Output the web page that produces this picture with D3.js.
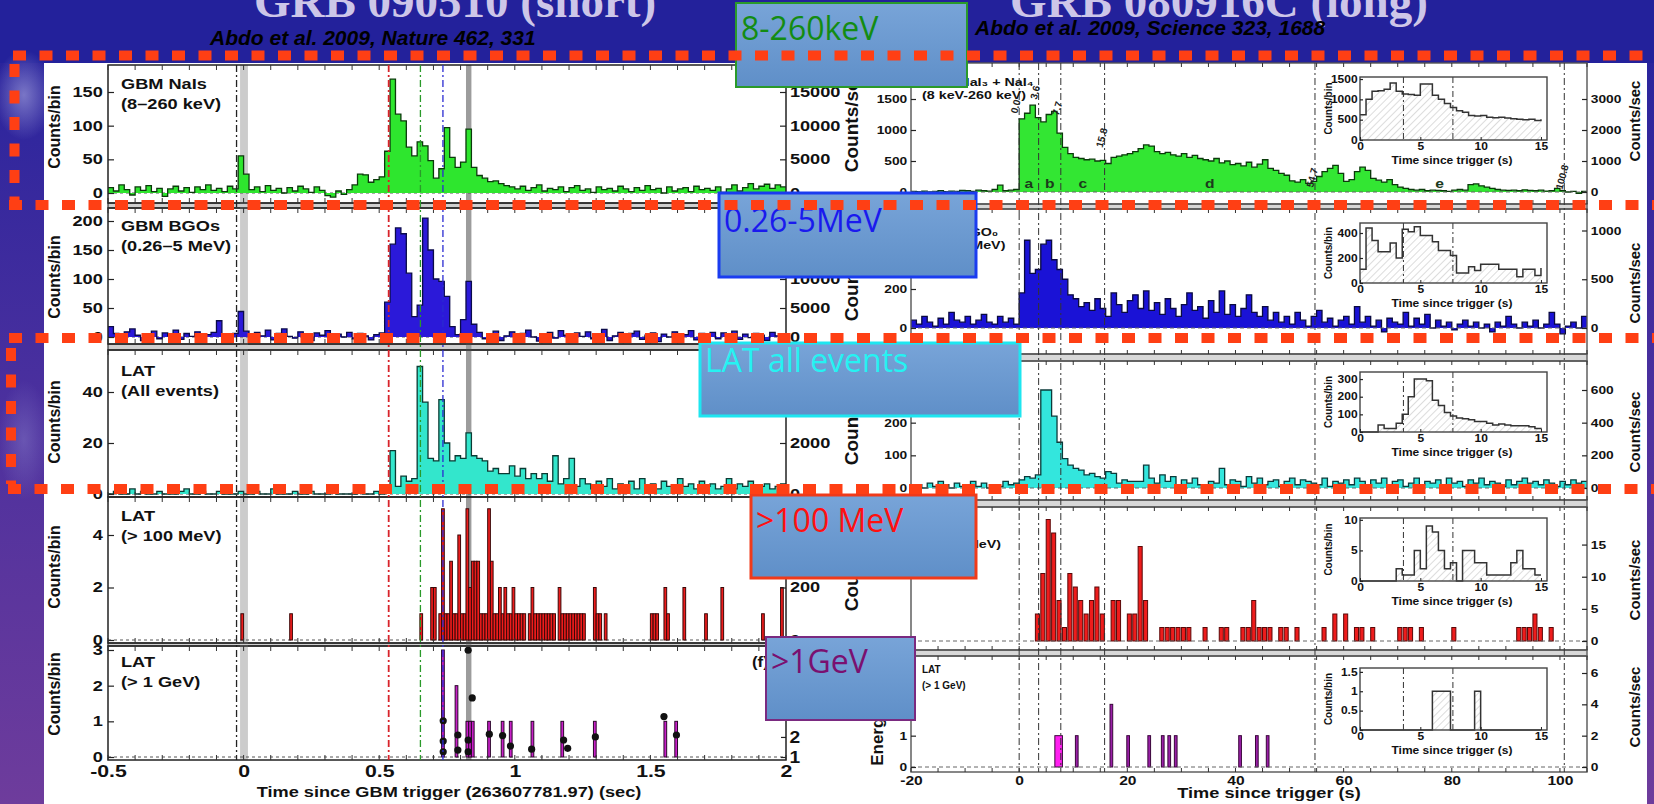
<!DOCTYPE html>
<meta charset="utf-8">
<style>
body { margin: 0; background: #23209a; overflow: hidden; }
</style>
<body>
<script src="https://d3js.org/d3.v7.min.js"></script>
<script>

// ---------- GRB 090510 (short) : counts per 0.02 s bin, from -0.5 s ----------
var naiShort = [8,3,12,5,-3,9,4,11,2,7,-5,6,10,3,8,1,9,5,12,4,7,2,10,6,
  55,28,
  5,9,2,11,4,7,0,8,3,10,6,1,9,4,-4,-6,3,-2,5,
  12,28,27,16,20,24,
  62,169,117,107,68,55,76,70,48,22,36,97,53,38,46,95,38,26,22,17,18,14,11,
  9,6,10,4,8,12,3,7,5,9,2,8,11,4,6,1,9,5,7,3,10,6,2,8,4,11,5,7,0,9,3,6,8,2,10,5,7,4,9,1,6,12,3,8,14,6,10,13,7,12,9];
var bgoShort = [18,6,-2,9,14,3,-6,5,10,-3,7,2,12,-4,6,1,9,-5,4,8,28,3,-2,6,
  44,10,
  -3,8,2,12,-5,6,14,1,-2,9,4,-6,7,3,11,-4,5,0,8,-3,6,2,-5,4,7,
  60,160,188,178,110,35,55,205,150,100,96,70,18,4,30,96,22,
  8,-3,5,10,-6,2,9,-4,6,12,0,-7,5,8,-2,11,3,-5,7,1,9,-3,4,13,-6,2,8,-1,6,10,
  -4,3,7,-8,5,0,9,-2,4,11,-5,6,1,8,-3,7,2,10,-4,5,-1,6,3,-6,8,2,5];
var latShort = [0,1,0,0,2,0,1,0,0,1,0,0,0,1,2,0,0,1,0,0,1,0,0,0,1,
  0,0,1,0,0,2,0,0,0,1,0,0,1,0,0,0,1,0,0,0,0,1,0,0,1,0,
  1,17,3,7,5,6,50,36,14,13,37,20,13,15,14,24,15,14,13,9,10,8,8,11,7,10,6,8,6,8,5,15,4,6,14,3,
  6,4,2,5,3,6,2,4,3,5,2,6,3,4,2,5,3,2,6,3,4,2,5,3,4,2,3,6,2,4,3,5,2,3,4,2,3,4];
// LAT > 100 MeV and > 1 GeV : 0.01 s bins (bin start, counts)
var lat100T = [-0.01,0.17,0.65,0.69,0.70,0.72,0.73,0.74,0.75,0.76,0.77,0.78,0.79,0.80,0.81,0.82,0.83,0.84,0.85,0.86,
  0.87,0.88,0.89,0.90,0.91,0.92,0.93,0.94,0.95,0.96,0.97,0.98,0.99,1.00,1.01,1.02,1.03,1.05,1.06,1.07,
  1.08,1.09,1.10,1.11,1.12,1.13,1.14,1.16,1.17,1.18,1.19,1.20,1.21,1.22,1.23,1.24,1.25,1.29,1.30,1.31,
  1.33,1.50,1.51,1.52,1.55,1.56,1.62,1.70,1.76,1.91,1.98];
var lat100C = [1,1,1,2,2,1,5,1,1,3,1,1,4,1,1,5,2,3,3,3,
  1,1,1,5,3,1,1,2,1,2,1,1,2,1,1,1,1,1,2,1,
  1,1,1,1,1,1,1,2,1,1,1,1,1,1,1,1,1,2,1,1,
  1,1,1,1,2,1,2,1,2,1,2];
var gev1T = [0.73,0.78,0.82,0.83,0.84,0.90,0.95,0.98,1.06,1.17,1.29,1.55,1.59];
var gev1C = [3,2,1,1,1,1,1,1,1,1,1,1,1];
// photon energies (GeV) above 1 GeV
var photonT = [0.736,0.736,0.736,0.79,0.79,0.828,0.843,0.828,0.828,0.906,0.955,0.984,1.062,1.18,1.195,1.297,1.55,1.596];
var photonE = [3.5,1.74,1.2,2.14,1.27,40,7.7,1.8,1.2,2.2,2.1,1.46,1.31,1.8,1.35,2.0,4.05,2.14];
var shortLinesT = [-0.026, 0.535, 0.652, 0.735];
var shortBands = [[-0.013, 0.016], [0.82, 0.84]];
var shortXTicks = [-0.5, 0, 0.5, 1, 1.5, 2];
var shortYTicks = [[0,50,100,150],[0,50,100,150,200],[0,20,40],[0,2,4],[0,1,2,3]];
var shortRTicks = [[0,5000,10000,15000],[0,5000,10000],[0,2000,4000],[0,200,400],[1,2,5,10,20]];
var shortLabels = [["GBM NaIs","(8–260 keV)"],["GBM BGOs","(0.26–5 MeV)"],["LAT","(All events)"],["LAT","(> 100 MeV)"],["LAT","(> 1 GeV)"]];

// ---------- GRB 080916C (long) : counts per 1 s bin, from -20 s ----------
var naiLong = [10,5,15,0,10,20,5,15,10,25,20,10,30,20,15,40,110,20,30,40,
  1180,1270,1400,1200,1130,1250,1300,950,720,620,560,540,520,530,500,510,460,560,580,600,
  620,650,700,760,740,650,620,640,600,580,620,560,590,540,520,500,540,470,500,440,
  460,420,480,400,450,520,380,350,300,270,180,160,200,140,170,250,330,380,430,300,
  170,200,330,400,350,220,190,160,200,120,80,60,40,30,40,20,30,25,20,10,
  30,40,30,120,130,100,80,60,40,30,25,30,20,35,25,20,30,15,20,60,20,0,10,-20,10];
var bgoLong = [40,20,60,30,10,50,20,80,40,30,60,20,40,70,30,20,60,30,50,20,
  180,450,280,300,430,450,350,300,250,170,150,110,130,90,150,100,60,180,120,80,
  140,170,100,190,90,130,70,150,100,60,120,180,90,110,50,140,80,190,70,120,
  60,100,170,80,60,110,40,80,30,60,20,80,40,10,60,90,30,50,10,40,
  60,20,110,30,60,10,40,-20,50,30,20,80,10,50,20,70,0,40,10,30,
  -10,20,40,10,30,0,20,-20,30,10,60,20,0,30,10,40,0,20,80,20,-30,10,30,0,60];
var latLong = [5,10,0,15,5,20,10,0,15,5,10,20,5,15,0,10,5,20,10,15,
  25,35,30,40,300,300,220,140,90,70,60,55,40,45,35,30,50,45,15,25,
  20,20,20,70,30,15,40,20,35,10,25,15,30,10,10,20,15,60,10,25,
  20,5,35,15,30,10,20,25,5,20,30,10,25,20,15,10,30,5,20,15,
  25,10,30,20,5,25,15,30,10,20,25,5,15,30,10,20,15,25,10,30,
  15,20,5,25,15,30,10,20,15,5,25,10,20,30,15,20,10,25,15,5,20,10,25,15,20];
var r100T = [3,4,5,6,7,8,9,10,11,12,13,14,15,17,18,20,21,22,23,26,27,28,29,30,31,34,37,38,41,42,
  43,44,45,46,48,49,51,56,58,60,62,63,65,70,71,72,74,80,92,93,94,95,96,98];
var r100C = [2,5,9,8,3,1,5,4,3,2,3,4,2,3,3,2,2,7,3,1,1,1,1,1,1,1,1,1,1,1,
  3,1,1,1,1,1,1,1,2,2,1,1,1,1,1,1,1,1,1,1,1,2,1,1];
var r1gT0 = [6.6,10.4,16.8,19.9,23.8,26.3,27.5,28.7,40.6,43.7,45.7];
var r1gT1 = [8.0,10.9,17.3,20.4,24.3,26.8,28.0,29.2,41.1,44.2,46.2];
var r1gC = [1,1,2,1,1,1,1,1,1,1,1];
var longLinesT = [0, 3.6, 7.7, 15.8, 54.7, 100.8];
var longLineLabels = ["0.0","3.6","7.7","15.8","54.7","100.8"];
var intervalNames = ["a","b","c","d","e"];
var longXTicks = [-20,0,20,40,60,80,100];
var longYTicks = [[0,500,1000,1500],[0,200,400],[0,100,200,300],[],[0,1,2,3]];
var longRTicks = [[0,1000,2000,3000],[0,500,1000],[0,200,400,600],[0,5,10,15],[0,2,4,6]];
var longRFactor = [2, 2, 2, 2.1, 2];
var longLabels = [["GBM NaI₃ + NaI₄","(8 keV-260 keV)"],["GBM BGO₀","(0.26-5 MeV)"],["LAT","(All events)"],["LAT","(> 100 MeV)"],["LAT","(> 1 GeV)"]];
// insets : first 15.5 s in 0.5 s bins
var insetNai = [620,1000,1200,1210,1250,1400,1200,1130,1120,1100,1380,1380,1100,1000,900,800,720,680,600,590,600,560,550,560,540,520,510,500,510,480,510];
var insetBgo = [110,440,340,250,250,320,200,430,410,450,380,380,330,260,260,220,80,80,130,100,150,150,150,110,110,110,50,110,110,60,120];
var insetLat = [0,0,0,40,20,20,50,100,200,300,300,290,180,150,110,90,80,75,70,60,60,50,40,45,40,35,35,35,30,20,15];
var inset100 = [0,0,0,0,0,0,2,1,1,5,2,9,8,5,2,3,0,5,5,3,3,1,1,1,1,3,5,2,2,1,1];
var inset1g = [0,0,0,0,0,0,0,0,0,0,0,0,1,1,1,0,0,0,0,1,0,0,0,0,0,0,0,0,0,0,0];
var insetMax = [1550, 480, 340, 10.3, 1.6];
var insetYTicks = [[0,500,1000,1500],[0,200,400],[0,100,200,300],[0,5,10],[0,0.5,1,1.5]];
var insetXTicks = [0,5,10,15];

var boxNames = ["8-260keV","0.26-5MeV","LAT all events",">100 MeV",">1GeV"];

var W = 1654, H = 804;
var svg = d3.select("body").append("svg").attr("width", W).attr("height", H)
  .attr("font-family", '"Liberation Sans", Arial, sans-serif');
var defs = svg.append("defs");

var bg = defs.append("linearGradient").attr("id", "bg").attr("x1", 0).attr("y1", 0).attr("x2", 0).attr("y2", 1);
[[0,"#22209b"],[0.1,"#2c259d"],[0.5,"#4b309e"],[1,"#6e3c9c"]].forEach(function(s){ bg.append("stop").attr("offset", s[0]).attr("stop-color", s[1]); });
var glow = defs.append("radialGradient").attr("id", "glow");
[[0,"#9a98d8",0.7],[1,"#9a98d8",0]].forEach(function(s){ glow.append("stop").attr("offset", s[0]).attr("stop-color", s[1]).attr("stop-opacity", s[2]); });
var bx = defs.append("linearGradient").attr("id", "boxg").attr("x1", 0).attr("y1", 0).attr("x2", 0).attr("y2", 1);
[[0,"#78a4d8"],[1,"#5f8fc8"]].forEach(function(s){ bx.append("stop").attr("offset", s[0]).attr("stop-color", s[1]); });
var hatch = defs.append("pattern").attr("id", "hatch").attr("patternUnits", "userSpaceOnUse")
  .attr("width", 5).attr("height", 5).attr("patternTransform", "rotate(45)");
hatch.append("line").attr("x1", 0).attr("y1", 0).attr("x2", 0).attr("y2", 5).attr("stroke", "#c4c4c4").attr("stroke-width", 1.2);

svg.append("rect").attr("width", W).attr("height", H).attr("fill", "url(#bg)");
svg.append("rect").attr("width", W).attr("height", 63).attr("fill", "#23219b");
svg.append("ellipse").attr("cx", 24).attr("cy", 95).attr("rx", 30).attr("ry", 45).attr("fill", "url(#glow)");
svg.append("ellipse").attr("cx", 24).attr("cy", 440).attr("rx", 26).attr("ry", 60).attr("fill", "url(#glow)").attr("opacity", 0.5);
svg.append("rect").attr("x", 44).attr("y", 63).attr("width", 1603).attr("height", H - 63).attr("fill", "#fff");

// titles
svg.append("text").attr("x", 455).attr("y", 17).attr("text-anchor", "middle")
  .attr("font-family", '"Liberation Serif", serif').attr("font-weight", "bold").attr("font-size", 47)
  .attr("fill", "#cdc6e8").text("GRB 090510 (short)");
svg.append("text").attr("x", 1219).attr("y", 17).attr("text-anchor", "middle")
  .attr("font-family", '"Liberation Serif", serif').attr("font-weight", "bold").attr("font-size", 47)
  .attr("fill", "#cdc6e8").text("GRB 080916C (long)");
svg.append("text").attr("x", 210).attr("y", 45).attr("font-size", 21).attr("font-weight", "bold")
  .attr("font-style", "italic").attr("fill", "#000").text("Abdo et al. 2009, Nature 462, 331");
svg.append("text").attr("x", 975).attr("y", 35).attr("font-size", 21).attr("font-weight", "bold")
  .attr("font-style", "italic").attr("fill", "#000").text("Abdo et al. 2009, Science 323, 1688");

function txt(g, x, y, s, o) {
  o = o || {};
  var tr = "translate(" + x + "," + y + ")";
  if (o.rot) tr += " rotate(" + o.rot + ")";
  if (o.sx && o.sx !== 1) tr += " scale(" + o.sx + ",1)";
  return g.append("text").attr("transform", tr)
    .attr("font-size", o.size || 14).attr("font-weight", "bold")
    .attr("text-anchor", o.anchor || "start")
    .attr("fill", o.fill || "#111").text(s);
}

function yAxis(g, right, x, scale, ticks, o) {
  var ax = (right ? d3.axisRight(scale) : d3.axisLeft(scale))
    .tickValues(ticks).tickSize(-o.tick).tickPadding(o.pad)
    .tickFormat(function(d){ return String(d); });
  var a = g.append("g").attr("transform", "translate(" + x + ",0)").call(ax)
    .attr("font-family", null).attr("font-size", null);
  a.select(".domain").remove();
  a.selectAll("line").attr("stroke", "#222").attr("stroke-width", 1.2);
  a.selectAll("text").attr("font-size", o.size).attr("font-weight", "bold").attr("fill", "#111")
    .attr("transform", "scale(" + o.sx + ",1)");
  return a;
}

function xMarks(g, x, y, vals, len) {
  g.append("g").selectAll("line").data(vals).join("line")
    .attr("x1", function(d){ return x(d); }).attr("x2", function(d){ return x(d); })
    .attr("y1", y).attr("y2", y + len).attr("stroke", "#333").attr("stroke-width", 1);
}

function stepHist(g, x, y, t0, dt, vals, fill, stroke) {
  var pts = vals.map(function(v, i){ return [t0 + i * dt, v]; });
  pts.push([t0 + vals.length * dt, vals[vals.length - 1]]);
  var area = d3.area().x(function(d){ return x(d[0]); }).y0(y(0)).y1(function(d){ return y(d[1]); }).curve(d3.curveStepAfter);
  var line = d3.line().x(function(d){ return x(d[0]); }).y(function(d){ return y(d[1]); }).curve(d3.curveStepAfter);
  g.append("path").attr("d", area(pts)).attr("fill", fill);
  g.append("path").attr("d", line(pts)).attr("fill", "none").attr("stroke", stroke).attr("stroke-width", 1.3);
}

function bars(g, x, y, t0s, t1s, cs, fill, stroke) {
  g.append("g").selectAll("rect").data(cs).join("rect")
    .attr("x", function(c, i){ return x(t0s[i]); })
    .attr("width", function(c, i){ return x(t1s[i]) - x(t0s[i]); })
    .attr("y", function(c){ return y(c); })
    .attr("height", function(c){ return y(0) - y(c); })
    .attr("fill", typeof fill === "function" ? function(c, i){ return fill(i); } : fill)
    .attr("stroke", stroke).attr("stroke-width", 1);
}

// ================= left figure =================
var gS = svg.append("g");
var xS = d3.scaleLinear().domain([-0.5, 2]).range([108, 786]);
var sP = [
  {top: 65,  bot: 203, y0: 193, y1: 92,  ly: 89,  ty: 127, rty: 121},
  {top: 208, bot: 344, y0: 337, y1: 221, ly: 231, ty: 277, rty: 270},
  {top: 350, bot: 497, y0: 494, y1: 392, ly: 376, ty: 422, rty: 414},
  {top: 497, bot: 643, y0: 640, y1: 535, ly: 521, ty: 567, rty: 560},
  {top: 646, bot: 760, y0: 757, y1: 650, ly: 667, ty: 694}
];
var sColors = [["#2ee62e","#0b3a0b"],["#2b19d9","#0b0b4a"],["#33e6cc","#0b3a33"],["#ee1c1c","#3a0808"],["#c81fc8","#2a062a"]];
var minorS = d3.range(-5, 21).map(function(i){ return i / 10; });

// gaps between panels
[[203,208],[344,350],[643,646]].forEach(function(r){
  gS.append("rect").attr("x", xS.range()[0]).attr("y", r[0]).attr("width", xS.range()[1] - xS.range()[0])
    .attr("height", r[1] - r[0]).attr("fill", "#cfcfcf").attr("stroke", "#333").attr("stroke-width", 1.2);
});
// gray bands
shortBands.forEach(function(b, i){
  gS.append("rect").attr("x", xS(b[0])).attr("width", xS(b[1]) - xS(b[0])).attr("y", 65).attr("height", 695)
    .attr("fill", i === 0 ? "#cccccc" : "#9c9c9c");
});

sP.forEach(function(p, k){
  var y = d3.scaleLinear().domain([0, shortYTicks[k][shortYTicks[k].length - 1]]).range([p.y0, p.y1]);
  defs.append("clipPath").attr("id", "cs" + k).append("rect")
    .attr("x", xS.range()[0]).attr("y", p.top).attr("width", xS.range()[1] - xS.range()[0]).attr("height", p.bot - p.top);
  var g = gS.append("g").attr("clip-path", "url(#cs" + k + ")");
  g.append("line").attr("x1", xS.range()[0]).attr("x2", xS.range()[1]).attr("y1", y(0)).attr("y2", y(0))
    .attr("stroke", "#555").attr("stroke-dasharray", "3 3");
  if (k === 0) stepHist(g, xS, y, -0.5, 0.02, naiShort, sColors[0][0], sColors[0][1]);
  if (k === 1) stepHist(g, xS, y, -0.5, 0.02, bgoShort, sColors[1][0], sColors[1][1]);
  if (k === 2) stepHist(g, xS, y, -0.5, 0.02, latShort, sColors[2][0], sColors[2][1]);
  if (k === 3) bars(g, xS, y, lat100T, lat100T.map(function(t){ return t + 0.01; }), lat100C, sColors[3][0], sColors[3][1]);
  if (k === 4) {
    bars(g, xS, y, gev1T, gev1T.map(function(t){ return t + 0.01; }), gev1C, sColors[4][0], sColors[4][1]);
    var yE = d3.scaleLog().domain([1, 48]).range([757, 645]);
    g.append("g").selectAll("circle").data(photonE).join("circle")
      .attr("cx", function(e, i){ return xS(photonT[i]); }).attr("cy", function(e){ return yE(e); })
      .attr("r", 3.6).attr("fill", "#111");
    yAxis(gS, true, xS.range()[1], yE, shortRTicks[4], {tick: 5, pad: 3, size: 16, sx: 1.2});
  } else {
    var yr = d3.scaleLinear().domain(y.domain().map(function(v){ return v * 100; })).range(y.range());
    yAxis(gS, true, xS.range()[1], yr, shortRTicks[k], {tick: 6, pad: 3, size: 14, sx: 1.3});
    txt(gS, 858, p.rty, "Counts/sec", {rot: -90, anchor: "middle", size: 19});
  }
  gS.append("rect").attr("x", xS.range()[0]).attr("y", p.top).attr("width", xS.range()[1] - xS.range()[0])
    .attr("height", p.bot - p.top).attr("fill", "none").attr("stroke", "#222").attr("stroke-width", 1.5);
  yAxis(gS, false, xS.range()[0], y, shortYTicks[k], {tick: 6, pad: 4, size: 14, sx: 1.3});
  xMarks(gS, xS, p.bot, minorS, -5);
  xMarks(gS, xS, p.top, minorS, 5);
  txt(gS, 121, p.ly, shortLabels[k][0], {size: 14, sx: 1.3});
  txt(gS, 121, p.ly + 20, shortLabels[k][1], {size: 14, sx: 1.3});
  txt(gS, 60, p.ty, "Counts/bin", {rot: -90, anchor: "middle", size: 16});
});
txt(gS, 883, 712, "Energy (GeV)", {rot: -90, anchor: "middle", size: 17});
txt(gS, 752, 667, "(f)", {size: 14, sx: 1.2});

// dash-dot lines
var sLineCols = ["#222", "#d8232a", "#2a9a2a", "#2a2ad0"];
shortLinesT.forEach(function(t, i){
  gS.append("line").attr("x1", xS(t)).attr("x2", xS(t)).attr("y1", 65).attr("y2", 760)
    .attr("stroke", sLineCols[i]).attr("stroke-width", i === 1 ? 1.8 : 1.3).attr("stroke-dasharray", "7 3 2 3");
});

var axS = gS.append("g").attr("transform", "translate(0,760)")
  .call(d3.axisBottom(xS).tickValues(shortXTicks).tickSize(0).tickPadding(5).tickFormat(function(d){ return String(d); }))
  .attr("font-family", null).attr("font-size", null);
axS.select(".domain").remove();
axS.selectAll("text").attr("font-size", 17).attr("font-weight", "bold").attr("fill", "#111").attr("transform", "scale(1.25,1)");
txt(gS, 449, 797, "Time since GBM trigger (263607781.97) (sec)", {anchor: "middle", size: 14, sx: 1.3});

// ================= right figure =================
var gL = svg.append("g");
var xL = d3.scaleLinear().domain([-20, 105]).range([911, 1587]);
var lP = [
  {top: 63,  bot: 204, y0: 192, y1: 99},
  {top: 209, bot: 354, y0: 328, y1: 250},
  {top: 361, bot: 500, y0: 488, y1: 390},
  {top: 507, bot: 650, y0: 641, y1: 533},
  {top: 656, bot: 772, y0: 767, y1: 673}
];
var lTop = [1500, 400, 300, 8, 3];
var lRty = [121, 283, 432, 580, 707];
var lColors = [["#33e633","#0b3a0b"],["#1a12d6","#0a0a40"],["#33e6dd","#0b3a3a"],["#ee1c1c","#5a0808"],["#9a1fa8","#3a063a"]];
var minorL = d3.range(-20, 106, 5);

[[204,209],[354,361],[500,507],[650,656]].forEach(function(r){
  gL.append("rect").attr("x", xL.range()[0]).attr("y", r[0]).attr("width", xL.range()[1] - xL.range()[0])
    .attr("height", r[1] - r[0]).attr("fill", "#d8d8d8").attr("stroke", "#666").attr("stroke-width", 1.5);
});

lP.forEach(function(p, k){
  var y = d3.scaleLinear().domain([0, lTop[k]]).range([p.y0, p.y1]);
  defs.append("clipPath").attr("id", "cl" + k).append("rect")
    .attr("x", xL.range()[0]).attr("y", p.top).attr("width", xL.range()[1] - xL.range()[0]).attr("height", p.bot - p.top);
  var g = gL.append("g").attr("clip-path", "url(#cl" + k + ")");
  if (k === 0) stepHist(g, xL, y, -20, 1, naiLong, lColors[0][0], lColors[0][1]);
  if (k === 1) stepHist(g, xL, y, -20, 1, bgoLong, lColors[1][0], lColors[1][1]);
  if (k === 2) stepHist(g, xL, y, -20, 1, latLong, lColors[2][0], lColors[2][1]);
  if (k === 3) bars(g, xL, y, r100T, r100T.map(function(t){ return t + 0.75; }), r100C, lColors[3][0], lColors[3][1]);
  if (k === 4) bars(g, xL, y, r1gT0, r1gT1, r1gC, function(i){ return i === 0 ? "#ff1ff0" : lColors[4][0]; }, lColors[4][1]);
  g.append("line").attr("x1", xL.range()[0]).attr("x2", xL.range()[1]).attr("y1", y(0)).attr("y2", y(0))
    .attr("stroke", "#666").attr("stroke-dasharray", "4 3");
  gL.append("rect").attr("x", xL.range()[0]).attr("y", p.top).attr("width", xL.range()[1] - xL.range()[0])
    .attr("height", p.bot - p.top).attr("fill", "none").attr("stroke", "#555").attr("stroke-width", 1.4);
  yAxis(gL, false, xL.range()[0], y, longYTicks[k], {tick: 5, pad: 3, size: 11, sx: 1.25});
  var yr = d3.scaleLinear().domain(y.domain().map(function(v){ return v * longRFactor[k]; })).range(y.range());
  yAxis(gL, true, xL.range()[1], yr, longRTicks[k], {tick: 5, pad: 3, size: 11, sx: 1.25});
  xMarks(gL, xL, p.bot, minorL, -4);
  xMarks(gL, xL, p.top, minorL, 4);
  txt(gL, 1640, lRty[k], "Counts/sec", {rot: -90, anchor: "middle", size: 15});
  var fs = k === 4 ? 10 : 11, sx = k === 4 ? 1 : 1.3;
  var ly = [86, 236, 384, 535, 673][k];
  txt(gL, 922, ly, longLabels[k][0], {size: fs, sx: sx});
  txt(gL, 922, ly + (k === 4 ? 16 : 13), longLabels[k][1], {size: fs, sx: sx});
});

longLinesT.forEach(function(t){
  gL.append("line").attr("x1", xL(t)).attr("x2", xL(t)).attr("y1", 63).attr("y2", 772)
    .attr("stroke", "#333").attr("stroke-width", 1).attr("stroke-dasharray", "7 3 2 3");
});
var lblBottom = [114, 100, 116, 148, 188, 190];
longLinesT.forEach(function(t, i){
  txt(gL, xL(t) - 2, lblBottom[i], longLineLabels[i], {rot: -75, size: 10, fill: "#222"});
});
intervalNames.forEach(function(n, i){
  var mid = (longLinesT[i] + longLinesT[i + 1]) / 2;
  txt(gL, xL(mid), 188, n, {anchor: "middle", size: 13, fill: "#1c3a1c", sx: 1.2});
});

var axL = gL.append("g").attr("transform", "translate(0,772)")
  .call(d3.axisBottom(xL).tickValues(longXTicks).tickSize(0).tickPadding(4).tickFormat(function(d){ return String(d); }))
  .attr("font-family", null).attr("font-size", null);
axL.select(".domain").remove();
axL.selectAll("text").attr("font-size", 13).attr("font-weight", "bold").attr("fill", "#111").attr("transform", "scale(1.2,1)");
txt(gL, 1269, 798, "Time since trigger (s)", {anchor: "middle", size: 14, sx: 1.3});

// insets
var xI = d3.scaleLinear().domain([0, 15.5]).range([1360, 1547]);
var insetFrames = [[77,140],[223,283],[372,432],[518,581],[668,730]];
var insetVals = [insetNai, insetBgo, insetLat, inset100, inset1g];
insetFrames.forEach(function(f, k){
  var y = d3.scaleLinear().domain([0, insetMax[k]]).range([f[1], f[0]]);
  var g = gL.append("g");
  g.append("rect").attr("x", xI.range()[0]).attr("y", f[0]).attr("width", xI.range()[1] - xI.range()[0])
    .attr("height", f[1] - f[0]).attr("fill", "#fff");
  var v = insetVals[k];
  var pts = v.map(function(c, i){ return [i * 0.5, c]; });
  var area = d3.area().x(function(d){ return xI(d[0]); }).y0(y(0)).y1(function(d){ return y(d[1]); }).curve(d3.curveStepAfter);
  var line = d3.line().x(function(d){ return xI(d[0]); }).y(function(d){ return y(d[1]); }).curve(d3.curveStepAfter);
  g.append("path").attr("d", area(pts)).attr("fill", "url(#hatch)");
  g.append("path").attr("d", line(pts)).attr("fill", "none").attr("stroke", "#333").attr("stroke-width", 1.5);
  [3.6, 7.7].forEach(function(t){
    g.append("line").attr("x1", xI(t)).attr("x2", xI(t)).attr("y1", f[0]).attr("y2", f[1])
      .attr("stroke", "#333").attr("stroke-dasharray", "6 3 2 3");
  });
  g.append("rect").attr("x", xI.range()[0]).attr("y", f[0]).attr("width", xI.range()[1] - xI.range()[0])
    .attr("height", f[1] - f[0]).attr("fill", "none").attr("stroke", "#444").attr("stroke-width", 1.4);
  yAxis(g, false, xI.range()[0], y, insetYTicks[k], {tick: 3, pad: 2, size: 10, sx: 1.2});
  var ax = g.append("g").attr("transform", "translate(0," + f[1] + ")")
    .call(d3.axisBottom(xI).tickValues(insetXTicks).tickSize(-3).tickPadding(3))
    .attr("font-family", null).attr("font-size", null);
  ax.select(".domain").remove();
  ax.selectAll("line").attr("stroke", "#222");
  ax.selectAll("text").attr("font-size", 10).attr("font-weight", "bold").attr("fill", "#111").attr("transform", "scale(1.2,1)");
  txt(g, 1452, f[1] + 24, "Time since trigger (s)", {anchor: "middle", size: 10, sx: 1.2});
  txt(g, 1332, (f[0] + f[1]) / 2, "Counts/bin", {rot: -90, anchor: "middle", size: 10});
});

// ================= label boxes =================
var boxes = [
  {x0: 736, y0: 3,   x1: 967, y1: 87,  stroke: "#2a9a2a", sw: 2, fill: "#138c13", by: 40},
  {x0: 719, y0: 193, x1: 976, y1: 277, stroke: "#1a3cf0", sw: 3, fill: "#1a1aee", by: 232},
  {x0: 700, y0: 343, x1: 1020, y1: 416, stroke: "#1ee6f0", sw: 3, fill: "#26f2f2", by: 372},
  {x0: 751, y0: 495, x1: 976, y1: 578, stroke: "#f03a1a", sw: 3, fill: "#ff1010", by: 532},
  {x0: 766, y0: 637, x1: 915, y1: 720, stroke: "#7a2a80", sw: 2, fill: "#7a1070", by: 673}
];
var gB = svg.append("g");
boxes.forEach(function(b, i){
  gB.append("rect").attr("x", b.x0).attr("y", b.y0).attr("width", b.x1 - b.x0).attr("height", b.y1 - b.y0)
    .attr("fill", "url(#boxg)").attr("stroke", b.stroke).attr("stroke-width", b.sw);
  gB.append("text").attr("x", b.x0 + 5).attr("y", b.by).attr("font-family", '"Open Sans", sans-serif')
    .attr("font-size", 32).attr("fill", b.fill).text(boxNames[i]);
});

// ================= red dashed frames =================
var gD = svg.append("g").attr("stroke", "#ff3f14").attr("stroke-width", 10).attr("stroke-dasharray", "13 13.5").attr("fill", "none");
[[13,55.5,1654,55.5],[9,205,1654,205],[9,338,1654,338],[8,489,1654,489],[14.5,64,14.5,200],[11,348,11,484]].forEach(function(l){
  gD.append("line").attr("x1", l[0]).attr("y1", l[1]).attr("x2", l[2]).attr("y2", l[3]);
});
</script>
